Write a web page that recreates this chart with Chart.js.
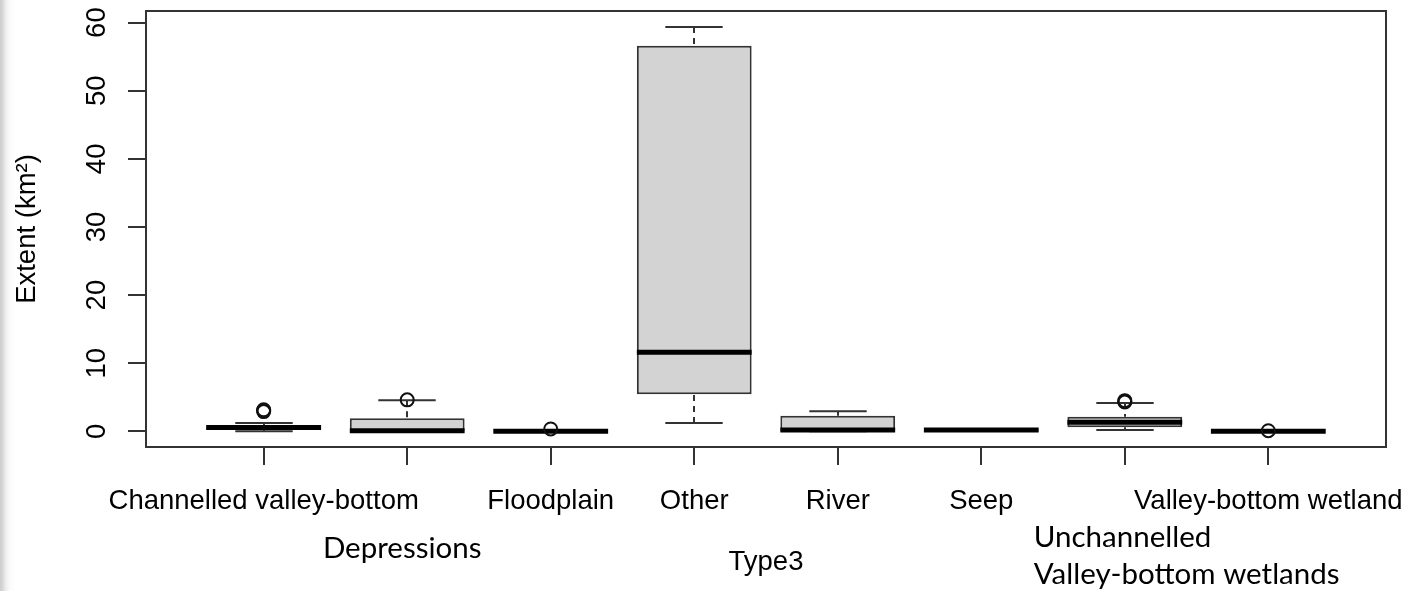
<!DOCTYPE html>
<html>
<head>
<meta charset="utf-8">
<title>Extent by Type3</title>
<script src="https://cdn.jsdelivr.net/npm/chart.js@4.4.1/dist/chart.umd.min.js"></script>
<style>
  html, body { margin: 0; padding: 0; background: #fff; }
  #wrap { position: relative; width: 1418px; height: 591px; overflow: hidden; background: #fff; }
  #edge { position: absolute; left: 0; top: 0; width: 16px; height: 591px;
          background: linear-gradient(to right, #cdcdcd 0px, #dadada 3px, #efefef 6px, #fbfbfb 10px, #fff 15px); }
  canvas { position: absolute; left: 0; top: 0; }
</style>
</head>
<body>
<div id="wrap">
  <div id="edge"></div>
  <canvas id="chart" width="1418" height="591"></canvas>
</div>
<script>
// Wetland types (x groups)
const categories = [
  'Channelled valley-bottom', 'Depressions', 'Floodplain', 'Other',
  'River', 'Seep', 'Unchannelled Valley-bottom wetlands', 'Valley-bottom wetland'
];
// Axis labels printed under the ticks (the crowded ones are written separately below)
const tickLabels = [
  'Channelled valley-bottom', '', 'Floodplain', 'Other',
  'River', 'Seep', '', 'Valley-bottom wetland'
];
const extraLabels = ['Depressions', 'Unchannelled', 'Valley-bottom wetlands'];
const yTickValues = [0, 10, 20, 30, 40, 50, 60];

// Five-number summaries of extent (km²) per type
const whiskerLow  = [0.00, 0.00, 0.00,  1.22, 0.00, 0.08, 0.19, 0.00];
const quartile1   = [0.19, 0.02, 0.01,  5.43, 0.01, 0.15, 0.59, 0.01];
const medians     = [0.55, 0.10, 0.03, 11.60, 0.20, 0.20, 1.32, 0.02];
const quartile3   = [0.92, 1.91, 0.07, 56.60, 2.29, 0.26, 2.14, 0.04];
const whiskerHigh = [1.22, 4.55, 0.15, 59.35, 2.94, 0.33, 4.15, 0.05];
// Points beyond the whiskers
const outliers = [
  [2.90, 3.05, 3.15], [4.62], [0.35], [], [], [], [4.30, 4.40, 4.50], [0.09]
];

const boxData = categories.map((c, i) => ({ x: i + 1, y: [quartile1[i], quartile3[i]] }));
const outlierData = [];
outliers.forEach((list, i) => list.forEach(v => outlierData.push({ x: i + 1, y: v })));

const BOX_HALF = 0.4;    // half box width, in x units
const STAPLE_HALF = 0.2; // half whisker-cap width
const AXIS_FONT = { family: "'Liberation Sans', Arial, sans-serif", size: 27.5 };
const INK = '#000';
const LINE = '#333';

const boxParts = {
  id: 'boxParts',
  beforeDatasetsDraw(chart) {
    const { ctx, scales: { x, y } } = chart;
    ctx.save();
    ctx.strokeStyle = LINE;
    ctx.lineWidth = 2;
    categories.forEach((_, i) => {
      const cx = Math.round(x.getPixelForValue(i + 1));
      const half = x.getPixelForValue(i + 1 + STAPLE_HALF) - x.getPixelForValue(i + 1);
      // dashed whiskers, drawn from the caps toward the box
      ctx.setLineDash([6, 5]);
      ctx.beginPath();
      ctx.moveTo(cx, y.getPixelForValue(whiskerHigh[i]));
      ctx.lineTo(cx, y.getPixelForValue(quartile3[i]));
      ctx.stroke();
      ctx.beginPath();
      ctx.moveTo(cx, y.getPixelForValue(whiskerLow[i]));
      ctx.lineTo(cx, y.getPixelForValue(quartile1[i]));
      ctx.stroke();
      // whisker caps
      ctx.setLineDash([]);
      ctx.beginPath();
      [whiskerLow[i], whiskerHigh[i]].forEach(v => {
        const py = y.getPixelForValue(v);
        ctx.moveTo(cx - half, py);
        ctx.lineTo(cx + half, py);
      });
      ctx.stroke();
    });
    ctx.restore();
  },
  afterDatasetDraw(chart, args) {
    if (args.meta.type !== 'bar') return;
    const { ctx, scales: { x, y } } = chart;
    ctx.save();
    ctx.strokeStyle = '#000';
    ctx.lineWidth = 5;
    ctx.lineCap = 'butt';
    medians.forEach((m, i) => {
      const x0 = x.getPixelForValue(i + 1 - BOX_HALF);
      const x1 = x.getPixelForValue(i + 1 + BOX_HALF);
      const py = y.getPixelForValue(m);
      ctx.beginPath();
      ctx.moveTo(x0, py);
      ctx.lineTo(x1, py);
      ctx.stroke();
    });
    ctx.restore();
  },
  afterDraw(chart) {
    const { ctx, chartArea: a, scales: { x } } = chart;
    ctx.save();
    // plot frame
    ctx.strokeStyle = LINE;
    ctx.lineWidth = 2;
    ctx.strokeRect(a.left, a.top, a.right - a.left, a.bottom - a.top);
    // labels for the crowded groups
    ctx.fillStyle = '#000';
    ctx.font = "29.5px Lato, 'Open Sans', sans-serif";
    ctx.textBaseline = 'alphabetic';
    ctx.textAlign = 'center';
    ctx.fillText(extraLabels[0], x.getPixelForValue(2) - 5, a.bottom + 111);
    ctx.textAlign = 'left';
    const lx = x.getPixelForValue(7) - 91;
    ctx.fillText(extraLabels[1], lx, a.bottom + 100);
    ctx.fillText(extraLabels[2], lx, a.bottom + 137);
    ctx.restore();
  }
};

new Chart(document.getElementById('chart'), {
  type: 'bar',
  data: {
    datasets: [
      {
        type: 'scatter',
        label: 'outliers',
        data: outlierData,
        pointStyle: 'circle',
        pointRadius: 6.5,
        pointBorderWidth: 2,
        pointBorderColor: '#111',
        pointBackgroundColor: 'rgba(0,0,0,0)',
        showLine: false
      },
      {
        type: 'bar',
        label: 'Extent',
        data: boxData,
        backgroundColor: '#d3d3d3',
        borderColor: LINE,
        borderWidth: 2,
        borderSkipped: false,
        categoryPercentage: 1.0,
        barPercentage: 0.8
      }
    ]
  },
  options: {
    responsive: false,
    devicePixelRatio: 1,
    animation: false,
    events: [],
    layout: { padding: { top: 11, right: 32, bottom: 0, left: 0 } },
    plugins: { legend: { display: false }, tooltip: { enabled: false } },
    scales: {
      x: {
        type: 'linear',
        offset: false,
        min: 0.18,
        max: 8.82,
        afterBuildTicks(scale) { scale.ticks = categories.map((c, i) => ({ value: i + 1 })); },
        afterFit(scale) { scale.height = 144; scale.paddingLeft = 0; scale.paddingRight = 0; },
        grid: { offset: false, drawOnChartArea: false, drawTicks: true, tickLength: 18, color: LINE, lineWidth: 2 },
        border: { display: false },
        ticks: {
          autoSkip: false,
          maxRotation: 0,
          minRotation: 0,
          padding: 20,
          color: INK,
          font: AXIS_FONT,
          callback(value) { return tickLabels[Math.round(value) - 1] || ''; }
        },
        title: { display: true, text: 'Type3', color: INK, font: AXIS_FONT, padding: { top: 0, bottom: 12 } }
      },
      y: {
        type: 'linear',
        min: -2.3,
        max: 61.7,
        afterBuildTicks(scale) { scale.ticks = yTickValues.map(v => ({ value: v })); },
        afterFit(scale) { scale.width = 146; scale.paddingTop = 0; scale.paddingBottom = 0; },
        grid: { drawOnChartArea: false, drawTicks: true, tickLength: 18, color: LINE, lineWidth: 2 },
        border: { display: false },
        ticks: {
          minRotation: 90,
          maxRotation: 90,
          crossAlign: 'center',
          padding: 15,
          color: INK,
          font: AXIS_FONT,
          callback(value) { return String(value); }
        },
        title: { display: true, text: 'Extent (km²)', color: INK, font: AXIS_FONT, padding: { top: 11, bottom: 0 } }
      }
    }
  },
  plugins: [boxParts]
});
</script>
</body>
</html>
